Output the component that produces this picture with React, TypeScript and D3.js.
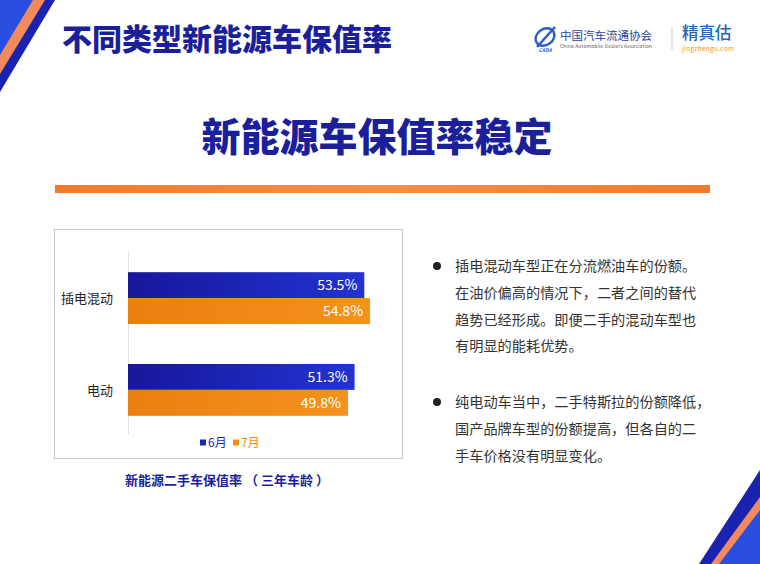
import React from "react";
import * as d3 from "d3";

const categories = ["插电混动", "电动"];
const seriesNames = ["6月", "7月"];
const juneValues = [53.5, 51.3];
const julyValues = [54.8, 49.8];
const bullets = [
  ["插电混动车型正在分流燃油车的份额。", "在油价偏高的情况下，二者之间的替代", "趋势已经形成。即便二手的混动车型也", "有明显的能耗优势。"],
  ["纯电动车当中，二手特斯拉的份额降低，", "国产品牌车型的份额提高，但各自的二", "手车价格没有明显变化。"],
];

const FONT = "'Noto Sans CJK SC', 'Noto Sans', sans-serif";
const DARK_BLUE = "#1b1f9a";

export default function App() {
  const x = d3.scaleLinear().domain([0, 60]).range([128, 393]);
  const y = d3.scaleBand<string>().domain(categories).range([252, 436]).paddingInner(0.435).paddingOuter(0.22);
  const inner = d3.scaleBand<string>().domain(seriesNames).range([0, y.bandwidth()]).padding(0);
  const series = [
    { name: seriesNames[0], values: juneValues, fill: "url(#gBlue)" },
    { name: seriesNames[1], values: julyValues, fill: "url(#gOrange)" },
  ];
  const legendColors = ["#1a27b8", "#f08a16"];

  return (
    <svg width={760} height={564} style={{ position: "absolute", left: 0, top: 0, background: "#fff" }} fontFamily={FONT}>
      <defs>
        <linearGradient id="gBlue" x1="0" x2="1" y1="0" y2="0">
          <stop offset="0" stopColor="#17179a" />
          <stop offset="1" stopColor="#2233d2" />
        </linearGradient>
        <linearGradient id="gOrange" x1="0" x2="1" y1="0" y2="0">
          <stop offset="0" stopColor="#ec7f10" />
          <stop offset="1" stopColor="#f3921c" />
        </linearGradient>
        <linearGradient id="gRule" x1="0" x2="1" y1="0" y2="0">
          <stop offset="0" stopColor="#f07a2a" />
          <stop offset="0.5" stopColor="#f59046" />
          <stop offset="1" stopColor="#f07a2a" />
        </linearGradient>
      </defs>
      <rect x={0} y={0} width={760} height={564} fill="#fff" />

      {/* top-left decoration */}
      <polygon points="0,0 55,0 0,92" fill="#1a22b0" />
      <polygon points="0,0 45,0 0,74" fill="#f28a5c" />
      <polygon points="0,0 33,0 0,55" fill="#2a4fe0" />

      {/* bottom-right decoration */}
      <polygon points="760,470 760,564 699,564" fill="#1a22b0" />
      <polygon points="760,497 760,564 711,564" fill="#f28a5c" />
      <polygon points="760,510 760,564 719,564" fill="#2a4fe0" />

      {/* title */}
      <text x={62} y={50} fontSize={30} fontWeight={900} fill={DARK_BLUE}>不同类型新能源车保值率</text>

      {/* logo */}
      <g>
        <ellipse cx={545} cy={37} rx={10} ry={8} fill="none" stroke="#2a5fc8" strokeWidth={2.4} transform="rotate(-35 545 37)" />
        <path d="M537,47 L555,27" stroke="#2a5fc8" strokeWidth={2.6} />
        <text x={545} y={52} fontSize={5} fontStyle="italic" fontWeight={700} fill="#2a5fc8" textAnchor="middle">CADA</text>
        <text x={560} y={40} fontSize={11.5} fill="#2a3f9a" fontFamily="'Noto Sans CJK SC', serif">中国汽车流通协会</text>
        <text x={560} y={48} textLength={92} fontSize={4.8} fill="#555">China Automobile Dealers Association</text>
        <line x1={672} y1={27} x2={672} y2={50} stroke="#ccc" strokeWidth={1} />
        <text x={682} y={39} fontSize={16.5} fontWeight={500} fill="#2d62b6">精真估</text>
        <text x={682} y={51} textLength={52} fontSize={6.5} fill="#f0903a">jingzhengu.com</text>
      </g>

      {/* headline */}
      <text x={377} y={151} fontSize={39} fontWeight={900} fill={DARK_BLUE} textAnchor="middle">新能源车保值率稳定</text>
      <rect x={55} y={185} width={655} height={8} fill="url(#gRule)" />

      {/* chart box */}
      <rect x={54.5} y={229.5} width={348} height={229} fill="#fff" stroke="#c4c4c4" strokeWidth={1} />
      <line x1={128.5} y1={252} x2={128.5} y2={434} stroke="#e2e2e2" strokeWidth={1} />

      {categories.map((c) => (
        <text key={c} x={113} y={(y(c) ?? 0) + y.bandwidth() / 2 + 5} fontSize={13} fill="#222" textAnchor="end">{c}</text>
      ))}

      {series.map((s) => (
        <g key={s.name}>
          {categories.map((c, i) => {
            const by = (y(c) ?? 0) + (inner(s.name) ?? 0);
            const bh = inner.bandwidth();
            return (
              <g key={c}>
                <rect x={x(0)} y={by} width={x(s.values[i]) - x(0)} height={bh} fill={s.fill} />
                <text x={x(s.values[i]) - 7} y={by + bh / 2 + 5} fontSize={14} fill="#fff" textAnchor="end">{s.values[i].toFixed(1)}%</text>
              </g>
            );
          })}
        </g>
      ))}

      {/* legend */}
      {seriesNames.map((n, i) => (
        <g key={n} transform={`translate(${200 + i * 33},443)`}>
          <rect x={0} y={-3.5} width={6} height={6} fill={legendColors[i]} />
          <text x={8} y={4} fontSize={12} fill={legendColors[i]}>{n}</text>
        </g>
      ))}

      {/* caption */}
      <text x={227} y={485} fontSize={13} fontWeight={700} fill={DARK_BLUE} textAnchor="middle">新能源二手车保值率 （ 三年车龄 ）</text>

      {/* bullets */}
      {bullets.map((lines, bi) => {
        const top = bi === 0 ? 271 : 407;
        return (
          <g key={bi}>
            <circle cx={437} cy={top - 5} r={4} fill="#222" />
            {lines.map((l, li) => (
              <text key={li} x={455} y={top + li * 26.8} fontSize={14.2} fill="#333">{l}</text>
            ))}
          </g>
        );
      })}
    </svg>
  );
}
